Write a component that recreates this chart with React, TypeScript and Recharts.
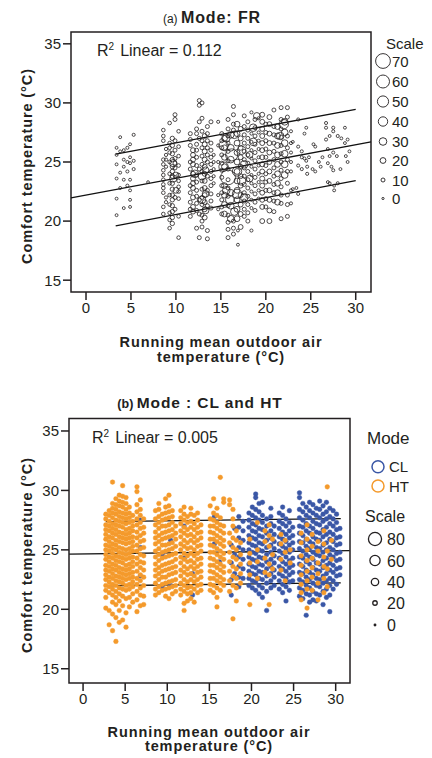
import React from "react";
import { ReferenceArea, ReferenceLine, Scatter, ScatterChart, XAxis, YAxis } from "recharts";

const FONT = "Arial, 'Liberation Sans', Helvetica, sans-serif";
const INK = "#231f20";
const ORANGE = "#f49a2c";
const BLUE = "#3a57a6";

const X_TICKS = [0, 5, 10, 15, 20, 25, 30];
const Y_TICKS = [15, 20, 25, 30, 35];
const X_DOMAIN: [number, number] = [-1.67, 31.7];
const Y_DOMAIN_A: [number, number] = [14, 36];
const Y_DOMAIN_B: [number, number] = [13.8, 36.05];

// (a) free-running mode: [running mean temp, scale, comfort temps]
const FR_COLS: [number, number, number[]][] = [
  [3.4, 4, [26.2, 25.6, 24.8, 23.6, 21.9, 20.5]],
  [3.8, 4, [27.1, 25.9, 24.1, 22.8]],
  [4.2, 4, [26.0, 25.2, 24.6, 23.5, 21.1]],
  [4.6, 5, [26.2, 25.0, 24.2, 23.0]],
  [4.9, 4, [26.5, 25.4, 24.9, 23.5, 22.6, 21.8, 21.2]],
  [5.3, 5, [27.3, 25.1, 24.4]],
  [6.9, 3, [23.3]],
  [8.6, 8, [27.7, 27.2, 26.8, 25.2, 24.8, 24.3, 23.9, 23.5, 23.1, 22.8, 22.4, 21.2, 20.6]],
  [8.9, 6, [26.1, 25.6, 25.2, 24.6, 22.0, 21.6]],
  [9.3, 8, [28.3, 26.6, 26.2, 25.8, 25.0, 24.0, 23.2, 22.2, 21.4, 20.7, 20.1, 19.4]],
  [9.6, 12, [27.0, 26.4, 25.7, 25.2, 24.6, 24.2, 23.8, 23.2, 22.7, 22.2, 21.8, 21.3, 20.8, 20.3, 19.8]],
  [9.9, 10, [29.0, 28.6, 26.8, 26.0, 25.3, 24.9, 24.5, 22.0, 21.0]],
  [10.3, 8, [27.6, 26.3, 25.5, 24.7, 23.9, 23.4, 22.9, 22.5, 21.9, 20.4, 18.6]],
  [9.7, 28, [23.6, 24.9]],
  [10.0, 20, [23.9, 22.6]],
  [11.6, 10, [27.4, 26.9, 26.4, 25.0, 24.4, 23.0, 22.4, 21.6, 21.0, 20.4]],
  [11.9, 15, [26.0, 25.6, 25.2, 24.8, 24.0, 23.6, 23.2, 22.8, 22.0, 21.2, 20.8]],
  [12.3, 10, [27.8, 27.4, 26.5, 26.0, 25.4, 24.7, 23.9, 23.3, 22.6, 22.1, 21.5, 20.9, 19.4]],
  [12.6, 10, [30.2, 29.8, 28.4, 27.0, 24.4, 21.8, 20.6, 18.6]],
  [12.9, 10, [30.0, 28.7, 27.6, 26.8, 26.2, 25.5, 24.8, 24.2, 23.4, 22.7, 22.0, 21.4, 20.5, 20.0, 19.5]],
  [13.2, 15, [27.2, 26.5, 25.9, 25.2, 24.6, 24.0, 23.4, 22.8, 22.2, 21.6, 21.0, 20.3]],
  [13.5, 10, [28.0, 27.4, 26.8, 26.2, 25.6, 25.0, 23.8, 22.6, 21.3, 19.2, 18.5]],
  [13.9, 10, [28.4, 26.6, 26.0, 25.4, 24.8, 24.2, 23.6, 23.0, 22.3, 21.7, 21.1]],
  [14.2, 5, [25.6, 25.0, 24.4, 23.8, 23.2]],
  [12.9, 30, [23.8, 21.8]],
  [13.3, 25, [24.3, 22.3, 20.9]],
  [12.1, 30, [24.0]],
  [14.7, 5, [28.4, 26.4, 25.0, 22.2, 21.0]],
  [15.1, 10, [27.4, 26.8, 26.2, 25.6, 24.9, 24.3, 23.7, 23.0, 22.4, 21.8, 21.2, 20.6]],
  [15.4, 20, [27.0, 26.2, 25.4, 24.6, 23.0, 22.2, 21.4, 20.6]],
  [15.8, 10, [28.6, 27.8, 27.2, 26.6, 25.9, 25.1, 24.4, 23.5, 22.8, 22.1, 21.3, 20.5, 19.9, 19.3, 18.6]],
  [16.1, 25, [27.3, 26.2, 25.2, 22.4, 21.3, 20.2]],
  [16.4, 10, [29.7, 29.0, 28.2, 27.7, 20.0, 19.4, 18.9]],
  [16.9, 4, [18.0, 19.2]],
  [16.8, 20, [28.2, 27.4, 26.6, 25.8, 25.0, 24.2, 23.4, 22.6, 21.8, 21.0, 20.2]],
  [17.2, 15, [27.8, 27.0, 26.2, 25.4, 24.6, 23.8, 23.0, 22.2, 21.4, 20.6, 19.5]],
  [17.6, 10, [28.9, 28.0, 27.3, 26.6, 25.9, 25.2, 24.5, 23.8, 23.1, 22.4, 21.7, 21.0, 20.4]],
  [18.0, 10, [28.4, 27.7, 27.0, 26.3, 25.6, 24.9, 24.2, 23.5, 22.8, 22.1, 21.4, 20.7, 20.0]],
  [18.4, 5, [29.2, 27.4, 26.7, 26.0, 25.3, 24.6, 23.9, 23.2, 22.5, 21.8, 21.1, 19.2]],
  [18.8, 10, [28.6, 27.9, 27.2, 26.5, 25.8, 25.1, 24.4, 23.7, 23.0, 22.3, 21.6, 20.9]],
  [19.2, 5, [28.7, 27.5, 26.8, 26.1, 25.4, 24.7, 24.0, 23.3, 22.6, 21.9]],
  [15.8, 70, [23.7]],
  [16.2, 55, [25.6]],
  [15.3, 40, [24.6, 26.4]],
  [16.8, 40, [24.2, 22.3]],
  [17.3, 35, [26.0, 23.4]],
  [16.0, 35, [21.8]],
  [17.6, 30, [24.8, 22.0]],
  [15.6, 30, [27.0, 22.6]],
  [18.2, 25, [25.6, 23.6]],
  [16.5, 30, [27.3, 20.8]],
  [18.6, 30, [27.9, 26.7]],
  [19.0, 25, [28.9]],
  [19.6, 15, [29.0, 28.4, 27.8, 27.2, 26.6, 26.0, 25.4, 24.8, 24.2, 23.6, 23.0, 22.4, 21.8, 21.2, 20.0]],
  [20.0, 10, [28.2, 27.5, 26.8, 26.1, 25.4, 24.7, 24.0, 23.3, 22.6, 21.9, 21.2]],
  [20.4, 15, [28.8, 28.2, 27.4, 26.6, 25.8, 25.0, 24.2, 23.4, 22.6, 21.8, 20.9, 20.0]],
  [20.9, 10, [29.4, 28.0, 27.3, 26.6, 25.9, 25.2, 24.5, 23.8, 23.1, 22.4, 21.7, 20.8]],
  [21.3, 20, [28.0, 27.2, 26.4, 25.6, 24.8, 24.0, 23.2, 22.4, 21.6]],
  [21.7, 10, [29.6, 28.6, 27.8, 27.1, 26.4, 25.7, 25.0, 24.3, 23.6, 22.9, 22.2, 21.5, 20.2]],
  [22.1, 25, [28.4, 27.5, 26.6, 25.7, 24.8, 23.9]],
  [22.4, 10, [29.6, 28.8, 27.2, 26.2, 25.2, 24.2, 23.2, 22.2, 21.4, 20.4]],
  [22.8, 5, [27.6, 26.6, 25.8, 25.0, 24.2, 22.6, 21.5]],
  [22.0, 40, [28.2]],
  [21.6, 30, [27.2]],
  [23.0, 4, [26.7, 22.7]],
  [23.4, 4, [22.8]],
  [23.6, 5, [28.6, 26.3, 24.7, 22.3]],
  [24.0, 5, [25.9, 25.4, 24.4]],
  [24.3, 4, [27.4, 25.3]],
  [24.5, 4, [27.9, 25.1]],
  [24.6, 5, [24.0, 24.6]],
  [24.8, 4, [25.4]],
  [25.2, 4, [24.4]],
  [25.3, 4, [26.5]],
  [25.5, 4, [26.3, 24.2]],
  [25.9, 4, [25.0]],
  [26.1, 4, [24.6]],
  [26.3, 4, [25.4]],
  [26.7, 5, [28.3, 27.9, 26.9]],
  [26.9, 4, [26.1, 24.9, 23.3]],
  [27.1, 4, [27.2, 25.5, 23.2]],
  [27.3, 4, [24.6]],
  [27.5, 5, [27.9, 27.6, 25.8, 24.3]],
  [27.6, 4, [23.0, 22.6]],
  [27.9, 4, [25.5]],
  [28.0, 5, [27.2, 23.2]],
  [28.3, 4, [24.4]],
  [28.4, 4, [27.0]],
  [28.8, 4, [27.9, 26.6]],
  [28.9, 4, [25.5]],
  [29.1, 4, [25.0, 26.9]],
  [29.3, 4, [25.9]],
];

// regression line and band, [x, y] at the two ends
const FR_FIT = [[-1.67, 21.96], [31.7, 26.7]];
const FR_UPPER = [[3.3, 25.67], [30, 29.46]];
const FR_LOWER = [[3.3, 19.6], [30, 23.42]];

// (b) heating mode points
const HT_COLS: [number, number[]][] = [
  [2.7, [28.0, 27.6, 27.1, 26.7, 26.3, 25.9, 25.4, 25.0, 24.6, 24.2, 23.7, 23.3, 22.9, 22.5, 22.0, 21.6, 21.0, 20.1]],
  [3.1, [28.3, 27.9, 27.4, 27.0, 26.6, 26.1, 25.7, 25.3, 24.9, 24.4, 24.0, 23.6, 23.2, 22.7, 22.3, 21.9, 21.4, 19.9, 18.7]],
  [3.5, [30.7, 28.9, 28.5, 28.1, 27.7, 27.2, 26.8, 26.4, 26.0, 25.5, 25.1, 24.7, 24.3, 23.8, 23.4, 23.0, 22.6, 22.1, 21.7, 21.2, 20.6, 19.6, 18.2]],
  [3.9, [29.3, 28.8, 28.4, 28.0, 27.5, 27.1, 26.7, 26.3, 25.8, 25.4, 25.0, 24.5, 24.1, 23.7, 23.3, 22.8, 22.4, 22.0, 21.5, 21.0, 20.4, 19.3, 17.3]],
  [4.3, [29.6, 29.1, 28.7, 28.2, 27.8, 27.4, 27.0, 26.5, 26.1, 25.7, 25.2, 24.8, 24.4, 24.0, 23.5, 23.1, 22.7, 22.3, 21.8, 21.3, 20.7, 19.9, 18.9]],
  [4.7, [30.4, 29.5, 29.0, 28.6, 28.1, 27.7, 27.3, 26.9, 26.4, 26.0, 25.6, 25.1, 24.7, 24.3, 23.9, 23.4, 23.0, 22.6, 22.2, 21.7, 21.1, 20.3, 19.1]],
  [5.1, [29.4, 28.9, 28.4, 28.0, 27.6, 27.2, 26.7, 26.3, 25.9, 25.5, 25.0, 24.6, 24.2, 23.7, 23.3, 22.9, 22.5, 22.0, 21.6, 20.9, 19.7, 18.5]],
  [5.5, [28.6, 28.1, 27.7, 27.3, 26.8, 26.4, 26.0, 25.6, 25.1, 24.7, 24.3, 23.8, 23.4, 23.0, 22.6, 22.1, 21.7, 21.0, 20.2]],
  [5.9, [27.9, 27.4, 27.0, 26.6, 26.1, 25.7, 25.3, 24.9, 24.4, 24.0, 23.6, 23.1, 22.7, 22.3, 21.9, 21.3, 20.6]],
  [6.4, [30.3, 29.9, 28.8, 28.2, 27.6, 27.1, 26.5, 26.0, 25.4, 24.9, 24.3, 23.8, 23.2, 22.6, 22.1, 21.5, 20.8, 19.8]],
  [6.8, [29.2, 28.4, 27.9, 27.3, 26.8, 26.2, 25.7, 25.1, 24.6, 24.0, 23.5, 22.9, 22.4, 21.8, 21.2, 20.3]],
  [7.2, [27.6, 26.9, 26.4, 25.8, 25.2, 24.5, 23.9, 23.3, 22.7, 22.0, 21.1, 20.4]],
  [8.6, [28.3, 27.6, 27.1, 26.5, 26.0, 25.5, 24.9, 24.4, 23.8, 23.3, 22.8, 22.2, 21.7, 21.2]],
  [9.0, [28.9, 28.4, 27.8, 27.3, 26.8, 26.2, 25.7, 25.1, 24.6, 24.1, 23.5, 23.0, 22.5, 21.9, 21.4]],
  [9.4, [28.0, 27.5, 27.0, 26.4, 25.9, 25.4, 24.8, 24.3, 23.7, 23.2, 22.7, 22.1, 21.6]],
  [9.8, [29.3, 28.6, 28.1, 27.6, 27.0, 26.5, 26.0, 25.4, 24.9, 24.4, 23.8, 23.3, 22.7, 22.2, 21.7, 21.1]],
  [10.2, [29.6, 28.7, 28.2, 27.7, 27.1, 26.6, 26.1, 25.5, 25.0, 24.5, 23.9, 23.4, 22.9, 22.3, 21.8, 20.9]],
  [10.6, [28.3, 27.8, 27.3, 26.7, 26.2, 25.6, 25.1, 24.6, 24.0, 23.5, 23.0, 22.4, 21.9, 21.3]],
  [11.0, [27.0, 26.4, 25.9, 25.3, 24.7, 24.2, 23.6, 23.1, 22.5, 22.0, 21.5]],
  [11.6, [28.3, 27.7, 27.2, 26.6, 26.1, 25.5, 25.0, 24.4, 23.9, 23.3, 22.8, 22.2, 21.7, 21.2]],
  [12.0, [28.6, 28.0, 27.5, 26.9, 26.4, 25.8, 25.3, 24.7, 24.2, 23.6, 23.1, 22.5, 22.0, 21.5, 20.5, 19.9]],
  [12.4, [27.8, 27.3, 26.7, 26.2, 25.6, 25.1, 24.5, 24.0, 23.4, 22.9, 22.3, 21.8, 21.3, 20.7]],
  [12.8, [28.5, 28.0, 27.4, 26.9, 26.3, 25.8, 25.2, 24.7, 24.1, 23.6, 23.0, 22.5, 21.9, 21.4, 20.9]],
  [13.2, [27.9, 27.2, 26.7, 26.1, 25.6, 25.0, 24.5, 23.9, 23.4, 22.8, 22.3, 21.7, 20.6]],
  [13.6, [28.1, 27.5, 26.9, 26.4, 25.8, 25.3, 24.7, 24.2, 23.6, 23.1, 22.5, 22.0, 21.4]],
  [14.0, [27.1, 26.5, 26.0, 25.4, 24.9, 24.3, 23.8, 23.2, 22.7, 22.1, 21.6]],
  [15.1, [28.7, 27.6, 27.0, 26.5, 25.9, 25.4, 24.8, 24.3, 23.7, 23.2, 22.6, 22.1, 21.6]],
  [15.5, [29.3, 28.1, 27.5, 27.0, 26.4, 25.9, 25.3, 24.8, 24.2, 23.7, 23.1, 22.6, 22.0, 21.4]],
  [15.9, [28.5, 27.9, 27.3, 26.8, 26.2, 25.7, 25.1, 24.6, 24.0, 23.5, 22.9, 22.4, 21.8, 21.0, 20.2]],
  [16.3, [31.1, 27.7, 27.1, 26.6, 26.0, 25.5, 24.9, 24.4, 23.8, 23.3, 22.7, 22.2, 21.6]],
  [16.7, [29.3, 29.0, 27.0, 26.4, 25.8, 25.3, 24.7, 24.2, 23.6, 23.1, 22.5, 22.0]],
  [17.4, [29.2, 28.8, 26.4, 25.6, 24.8, 24.0, 23.2, 22.4, 21.5]],
  [17.8, [28.4, 27.6, 27.0, 26.0, 25.2, 24.4, 23.6, 22.8, 22.0, 19.2]],
  [18.2, [26.6, 25.8, 25.0, 24.2, 23.4, 22.6, 21.8, 20.7]],
  [18.7, [25.6, 24.6, 23.8, 23.0, 22.2]],
  [19.8, [25.9, 24.7, 23.9, 22.9, 20.4]],
  [20.7, [27.3, 25.0, 24.0, 22.6]],
  [21.6, [26.6, 25.7, 24.3, 23.1]],
  [22.1, [27.1, 26.2, 25.3, 23.8, 22.9, 20.4]],
  [22.5, [25.9, 24.6, 23.4]],
  [23.5, [26.3, 25.5, 24.2, 23.3]],
  [24.0, [25.8, 24.8, 22.4]],
  [24.6, [25.0, 23.9]],
  [25.9, [26.4, 25.6, 24.5, 23.7, 22.9, 22.1, 21.4, 20.8]],
  [26.6, [27.1, 25.9, 25.0, 24.1, 23.2, 22.4, 21.7, 20.1]],
  [27.2, [26.3, 25.3, 24.3, 23.5, 22.7, 21.6]],
  [27.9, [25.7, 24.9, 23.9, 23.0, 22.2, 20.8]],
  [28.6, [26.6, 25.5, 24.4, 23.6, 22.6, 21.4]],
  [29.0, [30.3, 24.9, 23.4, 21.9]],
  [29.5, [25.8, 24.2]],
];

// (b) cooling mode points
const CL_COLS: [number, number[]][] = [
  [6.8, [27.5, 25.2, 22.8]],
  [9.4, [24.6, 21.9]],
  [10.4, [25.8, 22.0]],
  [12.0, [27.0, 24.3]],
  [13.0, [23.0, 21.2]],
  [15.6, [27.8, 25.5]],
  [16.2, [24.0]],
  [17.6, [25.4, 23.9, 22.5, 21.2]],
  [18.0, [26.8, 24.6, 23.0]],
  [18.5, [27.8, 26.9, 26.0, 25.2, 24.4, 23.6, 22.7, 21.9]],
  [19.0, [27.4, 26.6, 25.8, 25.0, 24.2, 23.4, 22.6]],
  [19.7, [28.1, 27.5, 26.9, 26.2, 25.6, 25.0, 24.4, 23.8, 23.2, 22.6, 22.0]],
  [20.1, [28.6, 27.9, 27.2, 26.6, 26.0, 25.4, 24.8, 24.2, 23.6, 23.0, 22.4, 21.8]],
  [20.5, [29.7, 29.4, 28.4, 27.7, 27.1, 26.5, 25.9, 25.3, 24.7, 24.1, 23.5, 22.9, 22.3, 21.6]],
  [20.9, [28.9, 28.2, 27.5, 26.8, 26.2, 25.6, 25.0, 24.4, 23.8, 23.2, 22.6, 22.0, 21.3]],
  [21.3, [29.0, 27.9, 27.3, 26.7, 26.1, 25.5, 24.9, 24.3, 23.7, 23.1, 22.5, 21.8, 21.0]],
  [21.8, [27.6, 27.0, 26.4, 25.8, 25.2, 24.6, 24.0, 23.4, 22.8, 22.2, 21.5, 19.9]],
  [22.3, [28.5, 27.8, 27.2, 26.6, 26.0, 25.4, 24.8, 24.2, 23.6, 23.0, 22.4, 21.8]],
  [22.7, [27.0, 26.3, 25.7, 25.1, 24.5, 23.9, 23.3, 22.7, 22.0]],
  [23.3, [28.1, 27.4, 26.8, 26.1, 25.5, 24.9, 24.3, 23.6, 23.0, 22.4, 21.7]],
  [23.7, [28.6, 27.9, 27.2, 26.5, 25.9, 25.3, 24.7, 24.0, 23.4, 22.8, 22.1, 21.4]],
  [24.1, [27.6, 27.0, 26.3, 25.7, 25.1, 24.4, 23.8, 23.2, 22.6, 21.9, 20.7]],
  [24.5, [28.3, 27.3, 26.6, 26.0, 25.4, 24.8, 24.1, 23.5, 22.9, 22.3, 21.6]],
  [24.9, [26.9, 26.2, 25.6, 25.0, 24.3, 23.7, 23.1, 22.4]],
  [25.7, [29.8, 29.4, 28.4, 27.7, 27.0, 26.4, 25.7, 25.1, 24.4, 23.8, 23.1, 22.5, 21.8, 21.1]],
  [26.1, [28.9, 28.2, 27.5, 26.9, 26.2, 25.6, 24.9, 24.3, 23.6, 23.0, 22.3, 21.6, 20.9]],
  [26.5, [28.6, 27.9, 27.2, 26.6, 25.9, 25.3, 24.6, 24.0, 23.3, 22.7, 22.0, 21.3, 19.5]],
  [26.9, [29.0, 28.3, 27.7, 27.0, 26.4, 25.7, 25.1, 24.4, 23.8, 23.1, 22.5, 21.8, 21.2, 20.6]],
  [27.3, [28.8, 28.1, 27.4, 26.8, 26.1, 25.5, 24.8, 24.2, 23.5, 22.9, 22.2, 21.5, 20.8]],
  [27.7, [28.5, 27.9, 27.2, 26.5, 25.9, 25.2, 24.6, 23.9, 23.3, 22.6, 22.0, 21.3, 20.7]],
  [28.1, [29.1, 28.4, 27.7, 27.1, 26.4, 25.8, 25.1, 24.5, 23.8, 23.2, 22.5, 21.9, 21.2]],
  [28.5, [28.7, 28.0, 27.4, 26.7, 26.1, 25.4, 24.8, 24.1, 23.5, 22.8, 22.2, 21.5, 20.4]],
  [28.9, [29.0, 28.2, 27.6, 26.9, 26.3, 25.6, 25.0, 24.3, 23.7, 23.0, 22.4, 21.7, 21.0]],
  [29.3, [28.5, 27.8, 27.2, 26.5, 25.9, 25.2, 24.6, 23.9, 23.3, 22.6, 22.0, 21.2, 19.8]],
  [29.7, [28.3, 27.6, 27.0, 26.3, 25.7, 25.0, 24.4, 23.7, 23.1, 22.4, 21.7]],
  [30.1, [28.0, 27.3, 26.7, 26.0, 25.4, 24.7, 24.1, 23.4, 22.8, 22.1]],
  [30.5, [26.8, 26.1, 25.5, 24.8, 24.2, 23.5, 22.9]],
];

const MIX_FIT = [[-1.65, 24.64], [31.65, 24.94]];
const MIX_UPPER = [[2.7, 27.38], [30.6, 27.63]];
const MIX_LOWER = [[2.7, 21.98], [30.6, 22.23]];

const SCALE_A = [70, 60, 50, 40, 30, 20, 10, 0];
const SCALE_B = [80, 60, 40, 20, 0];
const MODES = [
  { name: "CL", color: BLUE },
  { name: "HT", color: ORANGE },
];

const frData = FR_COLS.flatMap(([x, s, ys]) => ys.map((y) => ({ x, y, s })));
const htData = HT_COLS.flatMap(([x, ys]) => ys.map((y) => ({ x, y })));
const clData = CL_COLS.flatMap(([x, ys]) => ys.map((y) => ({ x, y })));

const seg = (p: number[][]) => [
  { x: p[0][0], y: p[0][1] },
  { x: p[1][0], y: p[1][1] },
];

const radA = (s: number) => 1.1 + 0.09 * s;
const radB = (s: number) => 0.8 + 0.072 * s;

function Ring(p: any) {
  return <circle cx={p.cx} cy={p.cy} r={radA(p.payload?.s ?? 0)} fill="none" stroke={INK} strokeWidth={0.8} />;
}

const dot = (color: string) => (p: any) => (
  <circle cx={p.cx} cy={p.cy} r={2.35} fill={color} stroke={color} strokeWidth={0.4} />
);

const TICK = { fontSize: 15, fill: INK, fontFamily: FONT };
const TICK_LINE = { stroke: INK, strokeWidth: 1.5 };
const LINE = { stroke: "#111", strokeWidth: 1.3 };

function PanelA() {
  return (
    <ScatterChart width={432} height={380} margin={{ top: 32, right: 61, bottom: 58, left: 31 }}>
      <XAxis type="number" dataKey="x" domain={X_DOMAIN} ticks={X_TICKS} interval={0} allowDataOverflow axisLine={false} tickLine={TICK_LINE} tickSize={8} tick={TICK} height={30} />
      <YAxis type="number" dataKey="y" domain={Y_DOMAIN_A} ticks={Y_TICKS} interval={0} allowDataOverflow axisLine={false} tickLine={TICK_LINE} tickSize={8} tick={TICK} width={40} />
      <ReferenceArea x1={X_DOMAIN[0]} x2={X_DOMAIN[1]} y1={Y_DOMAIN_A[0]} y2={Y_DOMAIN_A[1]} fill="none" stroke={INK} strokeWidth={1.5} ifOverflow="visible" />
      <Scatter data={frData} shape={Ring} isAnimationActive={false} />
      <ReferenceLine segment={seg(FR_FIT)} {...LINE} ifOverflow="visible" />
      <ReferenceLine segment={seg(FR_UPPER)} {...LINE} ifOverflow="visible" />
      <ReferenceLine segment={seg(FR_LOWER)} {...LINE} ifOverflow="visible" />
    </ScatterChart>
  );
}

function PanelB() {
  return (
    <ScatterChart width={432} height={340} margin={{ top: 28.5, right: 82, bottom: 17, left: 29 }}>
      <XAxis type="number" dataKey="x" domain={X_DOMAIN} ticks={X_TICKS} interval={0} allowDataOverflow axisLine={false} tickLine={TICK_LINE} tickSize={8} tick={TICK} height={30} />
      <YAxis type="number" dataKey="y" domain={Y_DOMAIN_B} ticks={Y_TICKS} interval={0} allowDataOverflow axisLine={false} tickLine={TICK_LINE} tickSize={8} tick={TICK} width={40} />
      <ReferenceArea x1={X_DOMAIN[0]} x2={X_DOMAIN[1]} y1={Y_DOMAIN_B[0]} y2={Y_DOMAIN_B[1]} fill="none" stroke={INK} strokeWidth={1.5} ifOverflow="visible" />
      <Scatter data={clData} shape={dot(BLUE)} isAnimationActive={false} />
      <Scatter data={htData} shape={dot(ORANGE)} isAnimationActive={false} />
      <ReferenceLine segment={seg(MIX_FIT)} {...LINE} ifOverflow="visible" />
      <ReferenceLine segment={seg(MIX_UPPER)} {...LINE} ifOverflow="visible" />
      <ReferenceLine segment={seg(MIX_LOWER)} {...LINE} ifOverflow="visible" />
    </ScatterChart>
  );
}

const BOLD = { fontWeight: 700, fontSize: 14.5, letterSpacing: 0.9 } as const;

function Overlay() {
  return (
    <svg width={432} height={758} style={{ position: "absolute", left: 0, top: 0, pointerEvents: "none" }} fontFamily={FONT} fill={INK}>
      {/* panel a */}
      <text x={212} y={23} textAnchor="middle">
        <tspan fontSize={12}>(a) </tspan>
        <tspan fontSize={16} fontWeight={700} letterSpacing={0.9}>Mode: FR</tspan>
      </text>
      <text x={97} y={56} fontSize={16}>
        R<tspan dy={-6} fontSize={10}>2</tspan>
        <tspan dy={6} dx={6}>Linear = 0.112</tspan>
      </text>
      <text transform="translate(32,166) rotate(-90)" textAnchor="middle" {...BOLD}>Comfort temperature (°C)</text>
      <text x={221} y={346.5} textAnchor="middle" {...BOLD}>Running mean outdoor air</text>
      <text x={221} y={361.5} textAnchor="middle" {...BOLD}>temperature (°C)</text>
      <text x={386} y={49} fontSize={15}>Scale</text>
      {SCALE_A.map((s, i) => {
        const cy = [61, 81.5, 101.5, 121.5, 141.5, 160.5, 180, 198.5][i];
        return (
          <g key={s}>
            <circle cx={383} cy={cy} r={radA(s)} fill="none" stroke={INK} strokeWidth={0.9} />
            <text x={392} y={cy + 5.5} fontSize={15}>{s}</text>
          </g>
        );
      })}

      {/* panel b */}
      <text x={200} y={407.5} textAnchor="middle">
        <tspan fontSize={12.5} fontWeight={700}>(b) </tspan>
        <tspan fontSize={15.5} fontWeight={700} letterSpacing={0.9}>Mode : CL and HT</tspan>
      </text>
      <text x={92} y={443} fontSize={16}>
        R<tspan dy={-6} fontSize={10}>2</tspan>
        <tspan dy={6} dx={6}>Linear = 0.005</tspan>
      </text>
      <text transform="translate(32,555) rotate(-90)" textAnchor="middle" {...BOLD}>Comfort temperature (°C)</text>
      <text x={209} y={736.5} textAnchor="middle" {...BOLD}>Running mean outdoor air</text>
      <text x={209} y={751} textAnchor="middle" {...BOLD}>temperature (°C)</text>
      <text x={367} y={444} fontSize={17}>Mode</text>
      {MODES.map((m, i) => {
        const cy = [466.7, 486][i];
        return (
          <g key={m.name}>
            <circle cx={378} cy={cy} r={6} fill="none" stroke={m.color} strokeWidth={1.5} />
            <text x={389} y={cy + 5.5} fontSize={15}>{m.name}</text>
          </g>
        );
      })}
      <text x={365} y={522} fontSize={16}>Scale</text>
      {SCALE_B.map((s, i) => {
        const cy = [539, 560.5, 582, 603, 625][i];
        return (
          <g key={s}>
            <circle cx={375} cy={cy} r={radB(s)} fill="none" stroke={INK} strokeWidth={1.3} />
            <text x={387} y={cy + 6} fontSize={16}>{s}</text>
          </g>
        );
      })}
    </svg>
  );
}

export default function App() {
  return (
    <div style={{ position: "absolute", left: 0, top: 0, width: 432, height: 758, background: "#fff", fontFamily: FONT }}>
      <div style={{ position: "absolute", left: 0, top: 0 }}>
        <PanelA />
      </div>
      <div style={{ position: "absolute", left: 0, top: 390 }}>
        <PanelB />
      </div>
      <Overlay />
    </div>
  );
}
